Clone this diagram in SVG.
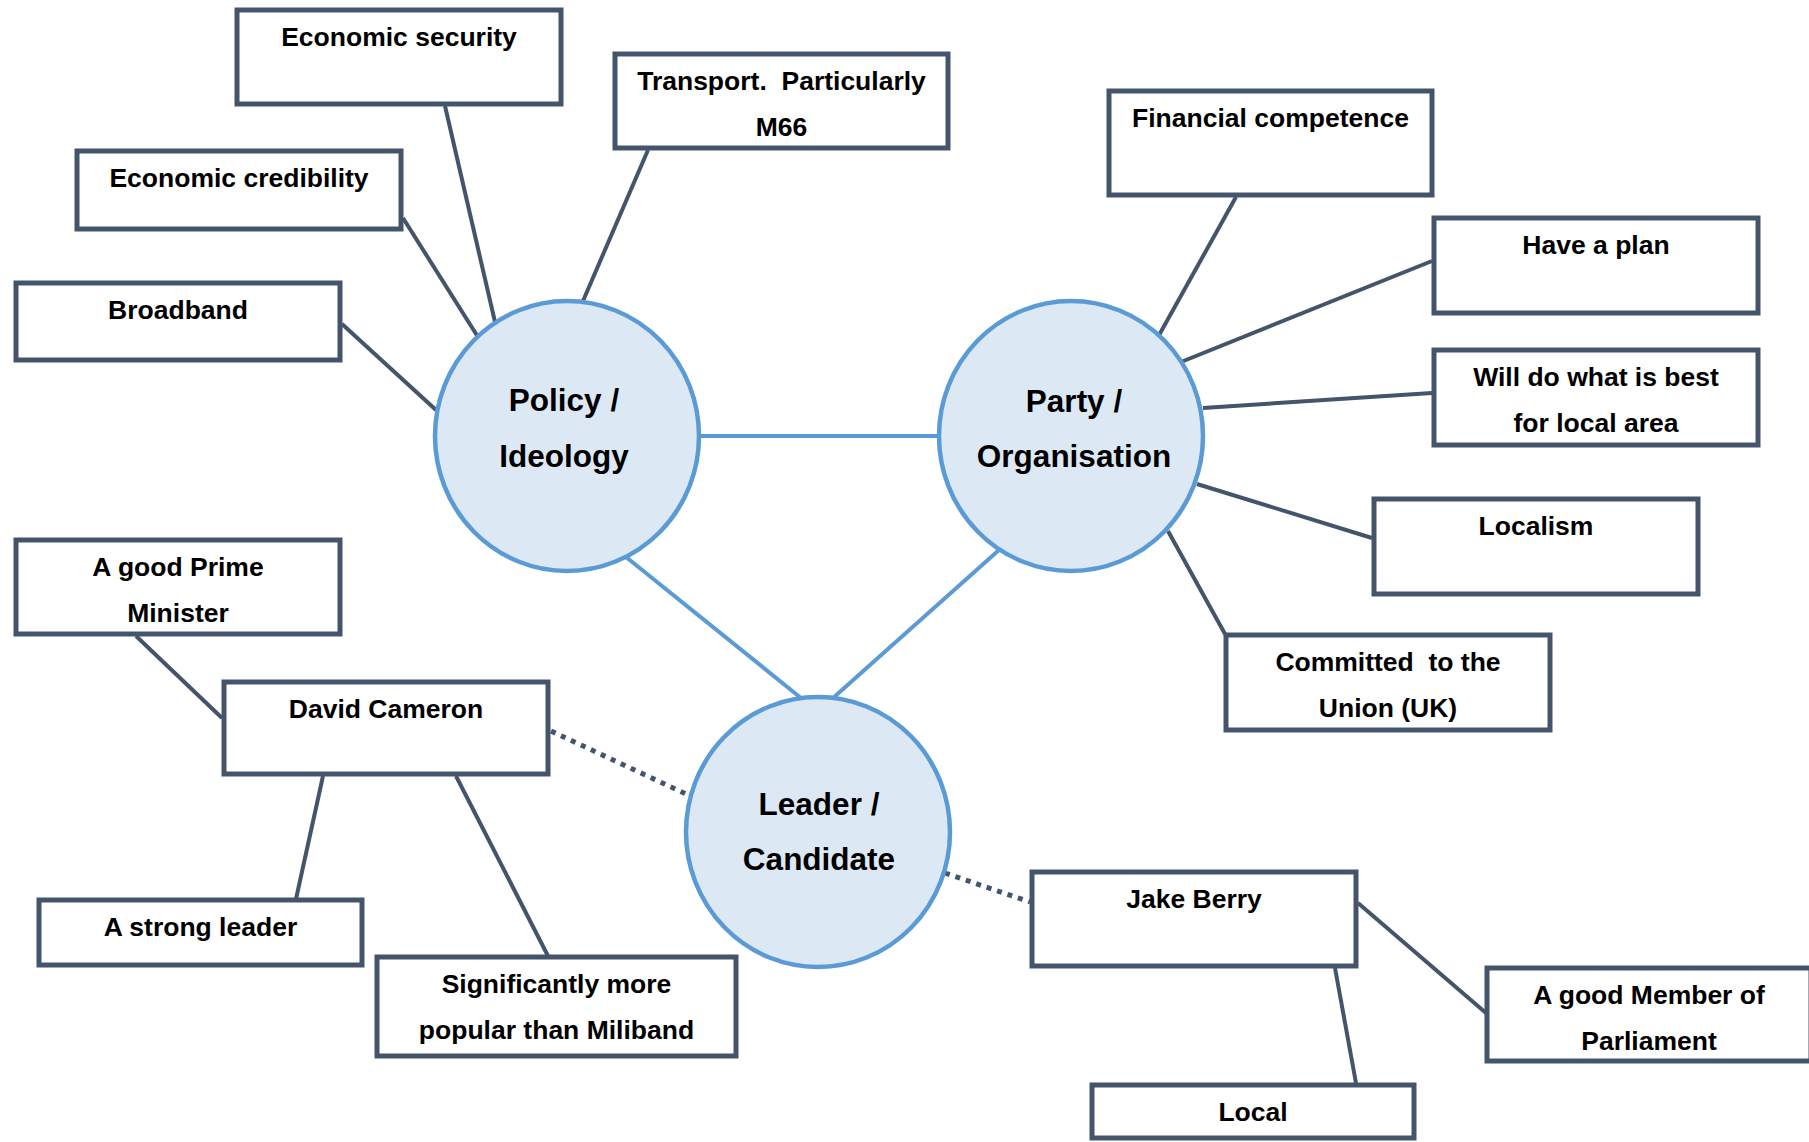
<svg xmlns="http://www.w3.org/2000/svg" width="1809" height="1142" viewBox="0 0 1809 1142">
  <style>
    .box rect { fill: #ffffff; stroke: #44546a; stroke-width: 5; }
    .box text { font-family: "Liberation Sans", Arial, sans-serif; font-weight: bold; font-size: 26.5px; fill: #000000; text-anchor: middle; }
    .hub ellipse { fill: #dde8f5; stroke: #5b9bd5; stroke-width: 4.5; }
    .hub text { font-family: "Liberation Sans", Arial, sans-serif; font-weight: bold; font-size: 31.5px; fill: #000000; text-anchor: middle; }
    .link { stroke: #44546a; stroke-width: 4; fill: none; }
    .dotted { stroke: #44546a; stroke-width: 5; stroke-dasharray: 5 6; fill: none; }
    .core { stroke: #5b9bd5; stroke-width: 4; fill: none; }
  </style>

  <!-- connectors -->
  <g id="connectors">
    <line class="core" x1="566" y1="436" x2="1072" y2="436"/>
    <line class="core" x1="626" y1="557" x2="801" y2="698"/>
    <line class="core" x1="999" y1="550" x2="833" y2="698"/>

    <line class="link" x1="445" y1="106" x2="495" y2="322"/>
    <line class="link" x1="403" y1="218" x2="478" y2="337"/>
    <line class="link" x1="342" y1="324" x2="436" y2="410"/>
    <line class="link" x1="648" y1="150" x2="583" y2="301"/>

    <line class="link" x1="1236" y1="197" x2="1158" y2="337"/>
    <line class="link" x1="1432" y1="261" x2="1181" y2="362"/>
    <line class="link" x1="1432" y1="393" x2="1203" y2="408"/>
    <line class="link" x1="1372" y1="538" x2="1197" y2="484"/>
    <line class="link" x1="1168" y1="531" x2="1225" y2="634"/>

    <line class="link" x1="136" y1="636" x2="222" y2="718"/>
    <line class="link" x1="323" y1="776" x2="296" y2="899"/>
    <line class="link" x1="456" y1="776" x2="548" y2="956"/>
    <line class="dotted" x1="551" y1="731" x2="686" y2="794"/>

    <line class="dotted" x1="945" y1="873" x2="1030" y2="902"/>
    <line class="link" x1="1358" y1="903" x2="1486" y2="1013"/>
    <line class="link" x1="1335" y1="968" x2="1356" y2="1083"/>
  </g>

  <!-- hubs -->
  <g id="policy" class="hub">
    <ellipse cx="567" cy="436" rx="132" ry="135"/>
    <text x="564" y="411">Policy /</text>
    <text x="564" y="467">Ideology</text>
  </g>
  <g id="party" class="hub">
    <ellipse cx="1071" cy="436" rx="132" ry="135"/>
    <text x="1074" y="412">Party /</text>
    <text x="1074" y="467">Organisation</text>
  </g>
  <g id="leader" class="hub">
    <ellipse cx="818" cy="832" rx="132" ry="135"/>
    <text x="819" y="815">Leader /</text>
    <text x="819" y="870">Candidate</text>
  </g>

  <!-- policy topics -->
  <g id="economic-security" class="box">
    <rect x="237" y="10" width="324" height="94"/>
    <text x="399" y="46">Economic security</text>
  </g>
  <g id="transport" class="box">
    <rect x="615" y="54" width="333" height="94"/>
    <text x="781.5" y="90" xml:space="preserve">Transport.  Particularly</text>
    <text x="781.5" y="136">M66</text>
  </g>
  <g id="economic-credibility" class="box">
    <rect x="77" y="151" width="324" height="78"/>
    <text x="239" y="187">Economic credibility</text>
  </g>
  <g id="broadband" class="box">
    <rect x="16" y="283" width="324" height="77"/>
    <text x="178" y="319">Broadband</text>
  </g>

  <!-- party topics -->
  <g id="financial-competence" class="box">
    <rect x="1109" y="91" width="323" height="104"/>
    <text x="1270.5" y="127">Financial competence</text>
  </g>
  <g id="have-a-plan" class="box">
    <rect x="1434" y="218" width="324" height="95"/>
    <text x="1596" y="254">Have a plan</text>
  </g>
  <g id="best-for-local" class="box">
    <rect x="1434" y="350" width="324" height="95"/>
    <text x="1596" y="386">Will do what is best</text>
    <text x="1596" y="432">for local area</text>
  </g>
  <g id="localism" class="box">
    <rect x="1374" y="499" width="324" height="95"/>
    <text x="1536" y="535">Localism</text>
  </g>
  <g id="union" class="box">
    <rect x="1226" y="635" width="324" height="95"/>
    <text x="1388" y="671" xml:space="preserve">Committed  to the</text>
    <text x="1388" y="717">Union (UK)</text>
  </g>

  <!-- leaders -->
  <g id="prime-minister" class="box">
    <rect x="16" y="540" width="324" height="94"/>
    <text x="178" y="576">A good Prime</text>
    <text x="178" y="622">Minister</text>
  </g>
  <g id="david-cameron" class="box">
    <rect x="224" y="682" width="324" height="92"/>
    <text x="386" y="718">David Cameron</text>
  </g>
  <g id="strong-leader" class="box">
    <rect x="39" y="900" width="323" height="65"/>
    <text x="200.5" y="936">A strong leader</text>
  </g>
  <g id="more-popular" class="box">
    <rect x="377" y="957" width="359" height="99"/>
    <text x="556.5" y="993">Significantly more</text>
    <text x="556.5" y="1039">popular than Miliband</text>
  </g>
  <g id="jake-berry" class="box">
    <rect x="1032" y="872" width="324" height="94"/>
    <text x="1194" y="908">Jake Berry</text>
  </g>
  <g id="good-mp" class="box">
    <rect x="1487" y="968" width="324" height="93"/>
    <text x="1649" y="1004">A good Member of</text>
    <text x="1649" y="1050">Parliament</text>
  </g>
  <g id="local" class="box">
    <rect x="1092" y="1085" width="322" height="53"/>
    <text x="1253" y="1121">Local</text>
  </g>
</svg>
